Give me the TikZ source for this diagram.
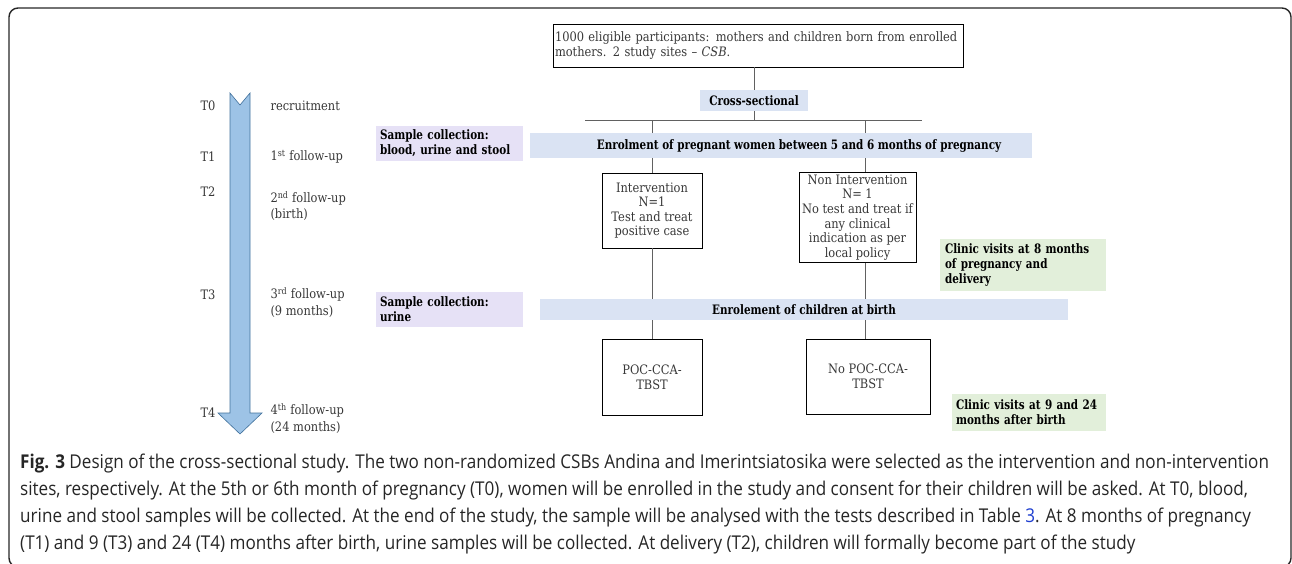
\documentclass[tikz,border=0pt]{standalone}
\usepackage{fontspec}
\setmainfont[FakeStretch=0.88,BoldFeatures={FakeStretch=0.8}]{DejaVu Serif}
\newfontfamily\capfont[FakeStretch=0.9]{Open Sans}
\usepackage{tikz}
\usetikzlibrary{positioning}

\definecolor{arrowfill}{HTML}{9DC3E6}
\definecolor{arrowline}{HTML}{41719C}
\definecolor{bandblue}{HTML}{DAE3F3}
\definecolor{samplelilac}{HTML}{E6E1F6}
\definecolor{clinicgreen}{HTML}{E2EFDA}
\definecolor{tablelink}{HTML}{1F3FD0}

\begin{document}
\begin{tikzpicture}[
x=1pt,y=-1pt,
every node/.style={font=\fontsize{13}{14.6}\selectfont,text=black!78},
boldtext/.style={font=\fontsize{13}{15}\selectfont\bfseries,text=black},
plainbox/.style={draw=black,line width=0.8pt,align=center,inner sep=2pt},
band/.style={boldtext,fill=bandblue,inner sep=0pt},
samplebox/.style={boldtext,fill=samplelilac,align=left,minimum width=147pt,minimum height=35pt,text width=139pt},
clinicbox/.style={boldtext,fill=clinicgreen,align=left},
link/.style={draw=black!62,line width=1pt},
timelabel/.style={anchor=west,align=left,font=\fontsize{13}{16.5}\selectfont}
]
\useasboundingbox (0,0) rectangle (1292,563);
\draw[black!85,line width=1.4pt,rounded corners=9pt] (9,8) rectangle (1291,567);

% time axis
\draw[fill=arrowfill,draw=arrowline,line width=0.6pt]
  (230,93) -- (240,105) -- (250,93) -- (250,413) -- (262,413)
  -- (240,434) -- (218,413) -- (230,413) -- cycle;
\foreach \t/\y in {0/106,1/157,2/192,3/295,4/413}
{
    \node (T\t) at (208,\y) {T\t};
}
\node[timelabel] (recruit) at (267,106) {recruitment};
\node[timelabel] (fu1) at (267,157) {1\textsuperscript{st} follow-up};
\node[timelabel] (fu2) at (267,206) {2\textsuperscript{nd} follow-up\\(birth)};
\node[timelabel] (fu3) at (267,302.5) {3\textsuperscript{rd} follow-up\\(9 months)};
\node[timelabel] (fu4) at (267,418.5) {4\textsuperscript{th} follow-up\\(24 months)};

\node[samplebox] (sample1) at (449.5,143.5) {Sample collection:\\blood, urine and stool};
\node[samplebox] (sample2) at (449.5,309) {Sample collection:\\urine};

% flow
\node[plainbox,align=left,text width=406pt,minimum height=43pt] (pop) at (758,45.5)
  {1000 eligible participants: mothers and children born from enrolled\\mothers. 2 study sites -- \textit{CSB}.};
\node[band,minimum width=108pt,minimum height=21pt] (cross) at (754,100.5) {Cross-sectional};
\coordinate (split) at (754,120);
\coordinate (splitL) at (585,120);
\coordinate (splitR) at (922,120);
\coordinate (armL) at (652,120);
\coordinate (armR) at (865,120);
\node[band,minimum width=502pt,minimum height=25pt] (enrol) at (781,145.5)
  {\hspace{36pt}Enrolment of pregnant women between 5 and 6 months of pregnancy};
\node[plainbox,minimum width=100pt,minimum height=75pt] (interv) at (652,210.5)
  {Intervention\\N=1\\Test and treat\\positive case};
\node[plainbox,minimum width=117pt,minimum height=89pt] (nonint) at (857.5,217.5)
  {Non Intervention\\N= 1\\No test and treat if\\any clinical\\indication as per\\local policy};
\node[clinicbox,minimum width=166pt,minimum height=52pt,text width=156pt] (clinic1) at (1023,265)
  {Clinic visits at 8 months\\of pregnancy and\\delivery};
\node[band,minimum width=528pt,minimum height=21pt] (child) at (804,309.5) {Enrolement of children at birth};
\node[plainbox,minimum width=100pt,minimum height=76pt] (poc) at (652,377) {POC-CCA-\\TBST};
\node[plainbox,minimum width=124pt,minimum height=75pt] (nopoc) at (868,376.5) {No POC-CCA-\\TBST};
\node[clinicbox,minimum width=154pt,minimum height=37pt,text width=146pt] (clinic2) at (1029,412.5)
  {Clinic visits at 9 and 24\\months after birth};

\draw[link] (pop.south -| cross) -- (cross);
\draw[link] (cross) -- (split);
\draw[link] (splitL) -- (splitR);
\draw[link] (armL) -- (armL |- enrol.north);
\draw[link] (armR) -- (armR |- enrol.north);
\draw[link] (enrol.south -| interv) -- (interv);
\draw[link] (enrol.south -| armR) -- (armR |- nonint.north);
\draw[link] (interv) -- (interv |- child.north);
\draw[link] (nonint.south -| armR) -- (armR |- child.north);
\draw[link] (child.south -| poc) -- (poc);
\draw[link] (child.south -| armR) -- (armR |- nopoc.north);

% caption
\node[anchor=north west,align=left,inner sep=0pt,text=black!85,
  font=\capfont\fontsize{19}{27}\selectfont] (caption) at (20,454)
  {\textbf{Fig. 3} Design of the cross-sectional study. The two non-randomized CSBs Andina and Imerintsiatosika were selected as the intervention and non-intervention\\
   sites, respectively. At the 5th or 6th month of pregnancy (T0), women will be enrolled in the study and consent for their children will be asked. At T0, blood,\\
   urine and stool samples will be collected. At the end of the study, the sample will be analysed with the tests described in Table {\color{tablelink}3}. At 8 months of pregnancy\\
   (T1) and 9 (T3) and 24 (T4) months after birth, urine samples will be collected. At delivery (T2), children will formally become part of the study};
\end{tikzpicture}
\end{document}
